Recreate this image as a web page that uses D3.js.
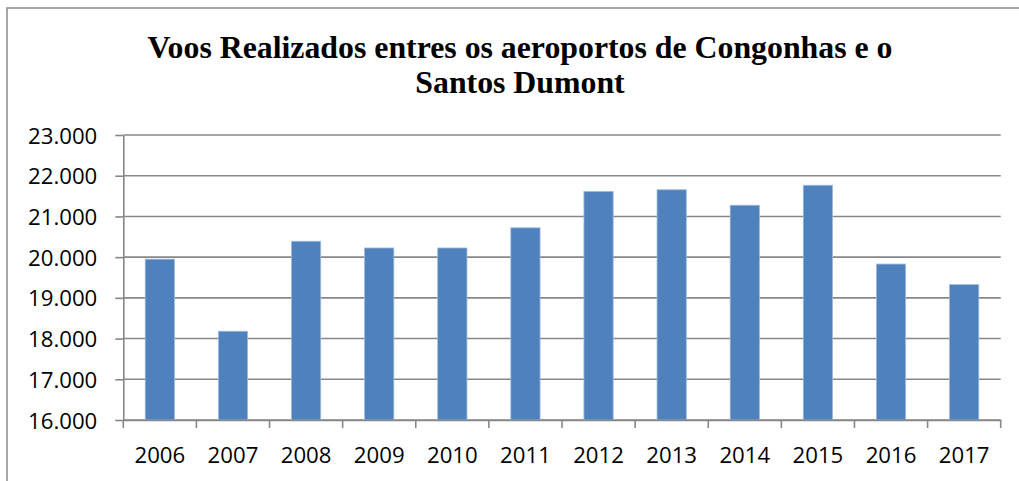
<!DOCTYPE html>
<html>
<head>
<meta charset="utf-8">
<script src="https://cdn.jsdelivr.net/npm/d3@7"></script>
<style>
  html, body { margin: 0; padding: 0; background: #fff; }
  svg { display: block; }
</style>
</head>
<body>
<svg id="chart" width="1019" height="481"></svg>
<script>
const titleLines = ["Voos Realizados entres os aeroportos de Congonhas e o", "Santos Dumont"];
const years = ["2006","2007","2008","2009","2010","2011","2012","2013","2014","2015","2016","2017"];
const flights = [19950, 18180, 20390, 20225, 20225, 20720, 21615, 21655, 21275, 21765, 19830, 19325];
const yTicks = [16000, 17000, 18000, 19000, 20000, 21000, 22000, 23000];
const yDomain = [16000, 23000];

(function () {
const svg = d3.select("#chart");
const plotLeft = 123.3, plotRight = 1000.7, plotTop = 135, plotBottom = 420;

// outer border
svg.append("rect")
  .attr("x", 7).attr("y", 8)
  .attr("width", 1030).attr("height", 490)
  .attr("fill", "#fff")
  .attr("stroke", "#8a8a8a").attr("stroke-width", 1.5);

// title
svg.append("g").selectAll("text").data(titleLines).join("text")
  .attr("x", 520)
  .attr("y", (d, i) => 57.7 + i * 35.6)
  .attr("text-anchor", "middle")
  .attr("font-family", "'Liberation Serif', 'Times New Roman', serif")
  .attr("font-weight", "bold")
  .attr("font-size", 31.8)
  .attr("fill", "#000")
  .text(d => d);

const x = d3.scaleBand().domain(years).range([plotLeft, plotRight]).paddingInner(0.6).paddingOuter(0.3);
const y = d3.scaleLinear().domain(yDomain).range([plotBottom, plotTop]);

const loc = d3.formatLocale({decimal: ",", thousands: ".", grouping: [3], currency: ["R$", ""]});
const fmt = loc.format(",.0f");

const gridColor = "#878787";

// gridlines
svg.append("g").selectAll("line").data(yTicks).join("line")
  .attr("x1", plotLeft).attr("x2", plotRight)
  .attr("y1", d => y(d)).attr("y2", d => y(d))
  .attr("stroke", gridColor).attr("stroke-width", 1.6);

// bars
svg.append("g").selectAll("rect").data(years).join("rect")
  .attr("x", d => x(d))
  .attr("y", (d, i) => y(flights[i]))
  .attr("width", x.bandwidth())
  .attr("height", (d, i) => y(yDomain[0]) - y(flights[i]))
  .attr("fill", "#4F81BD")
  .attr("stroke", "#9DB9DE").attr("stroke-width", 0.8);

// y axis
const yAxis = d3.axisLeft(y).tickValues(yTicks).tickFormat(fmt).tickSizeInner(8).tickSizeOuter(0).tickPadding(18);
const gy = svg.append("g").attr("transform", `translate(${plotLeft},0)`).call(yAxis);
gy.select(".domain").attr("stroke", gridColor).attr("stroke-width", 1.6);
gy.selectAll(".tick line").attr("stroke", gridColor).attr("stroke-width", 1.6);
gy.selectAll(".tick text")
  .attr("font-family", "'Open Sans', sans-serif")
  .attr("font-size", 22.2)
  .attr("fill", "#000")
  .attr("dy", "0.36em");

// x axis: labels centred in bands
const xAxis = d3.axisBottom(x).tickSize(0).tickPadding(0);
const gx = svg.append("g").attr("transform", `translate(0,${plotBottom})`).call(xAxis);
gx.select(".domain").attr("stroke", gridColor).attr("stroke-width", 1.6);
gx.selectAll(".tick text")
  .attr("font-family", "'Open Sans', sans-serif")
  .attr("font-size", 22.2)
  .attr("fill", "#000")
  .attr("y", 43).attr("dy", 0);

// category separator ticks at band boundaries
const bounds = years.map(d => x(d) + x.bandwidth() / 2 - x.step() / 2);
bounds.push(x(years[years.length - 1]) + x.bandwidth() / 2 + x.step() / 2);
svg.append("g").selectAll("line").data(bounds).join("line")
  .attr("x1", d => d).attr("x2", d => d)
  .attr("y1", plotBottom).attr("y2", plotBottom + 8)
  .attr("stroke", gridColor).attr("stroke-width", 1.6);
})();
</script>
</body>
</html>
